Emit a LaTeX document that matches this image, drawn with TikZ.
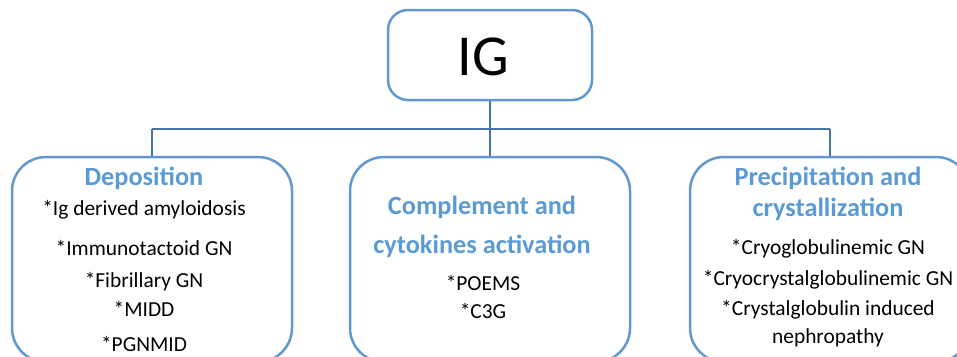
\documentclass[tikz,border=0pt]{standalone}
\usepackage{fontspec}
\setmainfont{Carlito}
\definecolor{connc}{HTML}{4675A6}
\definecolor{boxc}{HTML}{6199CF}
\definecolor{headc}{HTML}{5B9BD5}
\begin{document}
\begin{tikzpicture}[x=1pt,y=-1pt,
  conn/.style={draw=connc,line width=2.8pt},
  topbox/.style={draw=boxc,line width=2.5pt,rounded corners=20pt,minimum width=204pt,minimum height=90pt,inner sep=0pt},
  lowbox/.style={draw=boxc,line width=2.5pt,rounded corners=34pt,minimum width=280pt,minimum height=205pt,inner sep=0pt},
  head/.style={text=headc,font=\fontsize{26.3}{30}\selectfont\bfseries,inner sep=0pt},
  item/.style={text=black,font=\fontsize{21.4}{25}\selectfont,inner sep=0pt}]
\useasboundingbox (0,0) rectangle (957,356);
\clip (0,0) rectangle (957,356);
\fill[white] (0,0) rectangle (957,356);
\node[topbox] (ig) at (490,55) {};
\node[font=\fontsize{58}{66}\selectfont,inner sep=0pt] (igt) at (483,57) {IG};
\node[lowbox] (dep) at (152,259.5) {};
\node[lowbox] (comp) at (490,259.5) {};
\node[lowbox] (pre) at (830,259.5) {};
\coordinate (bl) at (152,129);
\coordinate (br) at (830,129);
\coordinate (bm) at (490,129);
\draw[conn] (ig.south) -- (bm);
\draw[conn] (bl) -- (br);
\draw[conn] (bl) -- (dep.north);
\draw[conn] (bm) -- (comp.north);
\draw[conn] (br) -- (pre.north);
% left
\node[head] (h1) at (144,178) {Deposition};
\node[item] (d1) at (144,210) {*Ig derived amyloidosis};
\node[item] (d2) at (144,248) {*Immunotactoid GN};
\node[item] (d3) at (144,282) {*Fibrillary GN};
\node[item] (d4) at (144,309) {*MIDD};
\node[item] (d5) at (144,344) {*PGNMID};
% middle
\node[head] (h2) at (482,207) {Complement and};
\node[head] (h3) at (482,246) {cytokines activation};
\node[item] (c1) at (483,283) {*POEMS};
\node[item] (c2) at (483,311) {*C3G};
% right
\node[head] (h4) at (828,178) {Precipitation and};
\node[head] (h5) at (828,209) {crystallization};
\node[item] (p1) at (828,249) {*Cryoglobulinemic GN};
\node[item] (p2) at (828,280) {*Cryocrystalglobulinemic GN};
\node[item] (p3) at (828,310) {*Crystalglobulin induced};
\node[item] (p4) at (828,338) {nephropathy};
\end{tikzpicture}
\end{document}
